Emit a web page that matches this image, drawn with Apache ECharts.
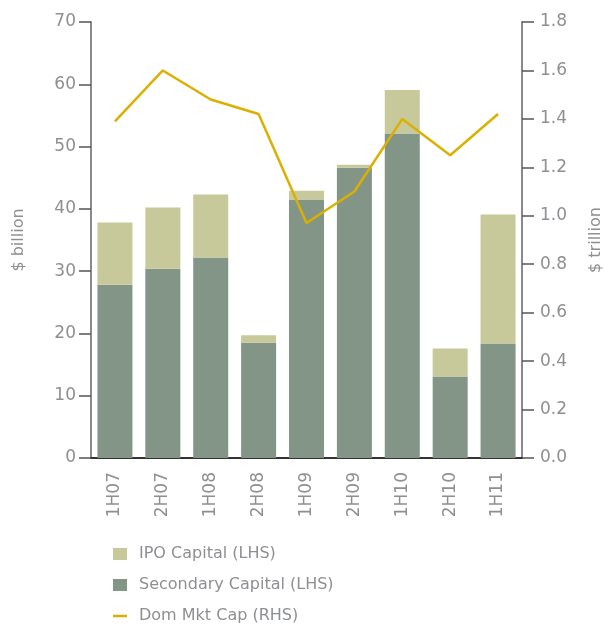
<!DOCTYPE html>
<html>
<head>
<meta charset="utf-8">
<script src="https://cdn.jsdelivr.net/npm/echarts@6/dist/echarts.min.js"></script>
<style>html,body{margin:0;padding:0;background:#fff}#c{width:605px;height:624px}</style>
</head>
<body>
<div id="c"></div>
<script>
const categories = ['1H07','2H07','1H08','2H08','1H09','2H09','1H10','2H10','1H11'];
const secondaryCapital = [27.8, 30.4, 32.2, 18.5, 41.5, 46.6, 52.1, 13.1, 18.4];
const ipoCapital = [10.0, 9.8, 10.1, 1.2, 1.4, 0.5, 7.0, 4.5, 20.7];
const domMktCap = [1.39, 1.60, 1.48, 1.42, 0.97, 1.10, 1.40, 1.25, 1.42];
const leftTicks = {min: 0, max: 70, interval: 10};
const rightTicks = {min: 0, max: 1.8, interval: 0.2};

const txt = '#8e8f92';
const font = 'DejaVu Sans';
const chart = echarts.init(document.getElementById('c'), null, {renderer: 'canvas'});
chart.setOption({
  animation: false,
  textStyle: {fontFamily: font},
  grid: {left: 91, right: 83, top: 22, bottom: 166, containLabel: false, outerBoundsMode: 'none'},
  legend: {
    orient: 'vertical', left: 113, top: 546, height: 110, padding: 0,
    itemWidth: 14, itemHeight: 12, itemGap: 15,
    textStyle: {color: txt, fontSize: 16, fontFamily: font, padding: [0, 0, 0, 7]},
    data: [
      {name: 'IPO Capital (LHS)', icon: 'rect'},
      {name: 'Secondary Capital (LHS)', icon: 'rect'},
      {name: 'Dom Mkt Cap (RHS)', icon: 'path://M0,0 L14,0 L14,2.5 L0,2.5 Z', itemStyle: {color: '#dcb000'}}
    ]
  },
  xAxis: {
    type: 'category', data: categories,
    axisLine: {lineStyle: {color: '#333', width: 2}},
    axisTick: {inside: true, length: 11, lineStyle: {color: '#333', width: 1.5}},
    axisLabel: {rotate: 90, margin: 14, color: txt, fontSize: 17, fontFamily: font}
  },
  yAxis: [
    {
      type: 'value', min: leftTicks.min, max: leftTicks.max, interval: leftTicks.interval,
      name: '$ billion', nameLocation: 'middle', nameGap: 64, nameRotate: 90,
      nameTextStyle: {color: txt, fontSize: 16, fontFamily: font},
      axisLine: {show: true, lineStyle: {color: '#8a8a8a', width: 2}},
      axisTick: {show: true, length: 12, lineStyle: {color: '#555', width: 1.5}},
      axisLabel: {color: txt, fontSize: 17, margin: 15, fontFamily: font},
      splitLine: {show: false}
    },
    {
      type: 'value', min: rightTicks.min, max: rightTicks.max, interval: rightTicks.interval,
      position: 'right',
      name: '$ trillion', nameLocation: 'middle', nameGap: 66, nameRotate: 90,
      nameTextStyle: {color: txt, fontSize: 16, fontFamily: font},
      axisLine: {show: true, lineStyle: {color: '#8a8a8a', width: 2}},
      axisTick: {show: true, length: 12, lineStyle: {color: '#555', width: 1.5}},
      axisLabel: {color: txt, fontSize: 17, margin: 18, fontFamily: font,
        formatter: v => v.toFixed(1)},
      splitLine: {show: false}
    }
  ],
  series: [
    {name: 'Secondary Capital (LHS)', type: 'bar', stack: 'cap', barWidth: 35,
     itemStyle: {color: '#829587'}, data: secondaryCapital},
    {name: 'IPO Capital (LHS)', type: 'bar', stack: 'cap', barWidth: 35,
     itemStyle: {color: '#c8c99a'}, data: ipoCapital},
    {name: 'Dom Mkt Cap (RHS)', type: 'line', yAxisIndex: 1, symbol: 'none',
     lineStyle: {color: '#dcb000', width: 2.5}, itemStyle: {color: '#dcb000'},
     data: domMktCap}
  ]
});
</script>
</body>
</html>
